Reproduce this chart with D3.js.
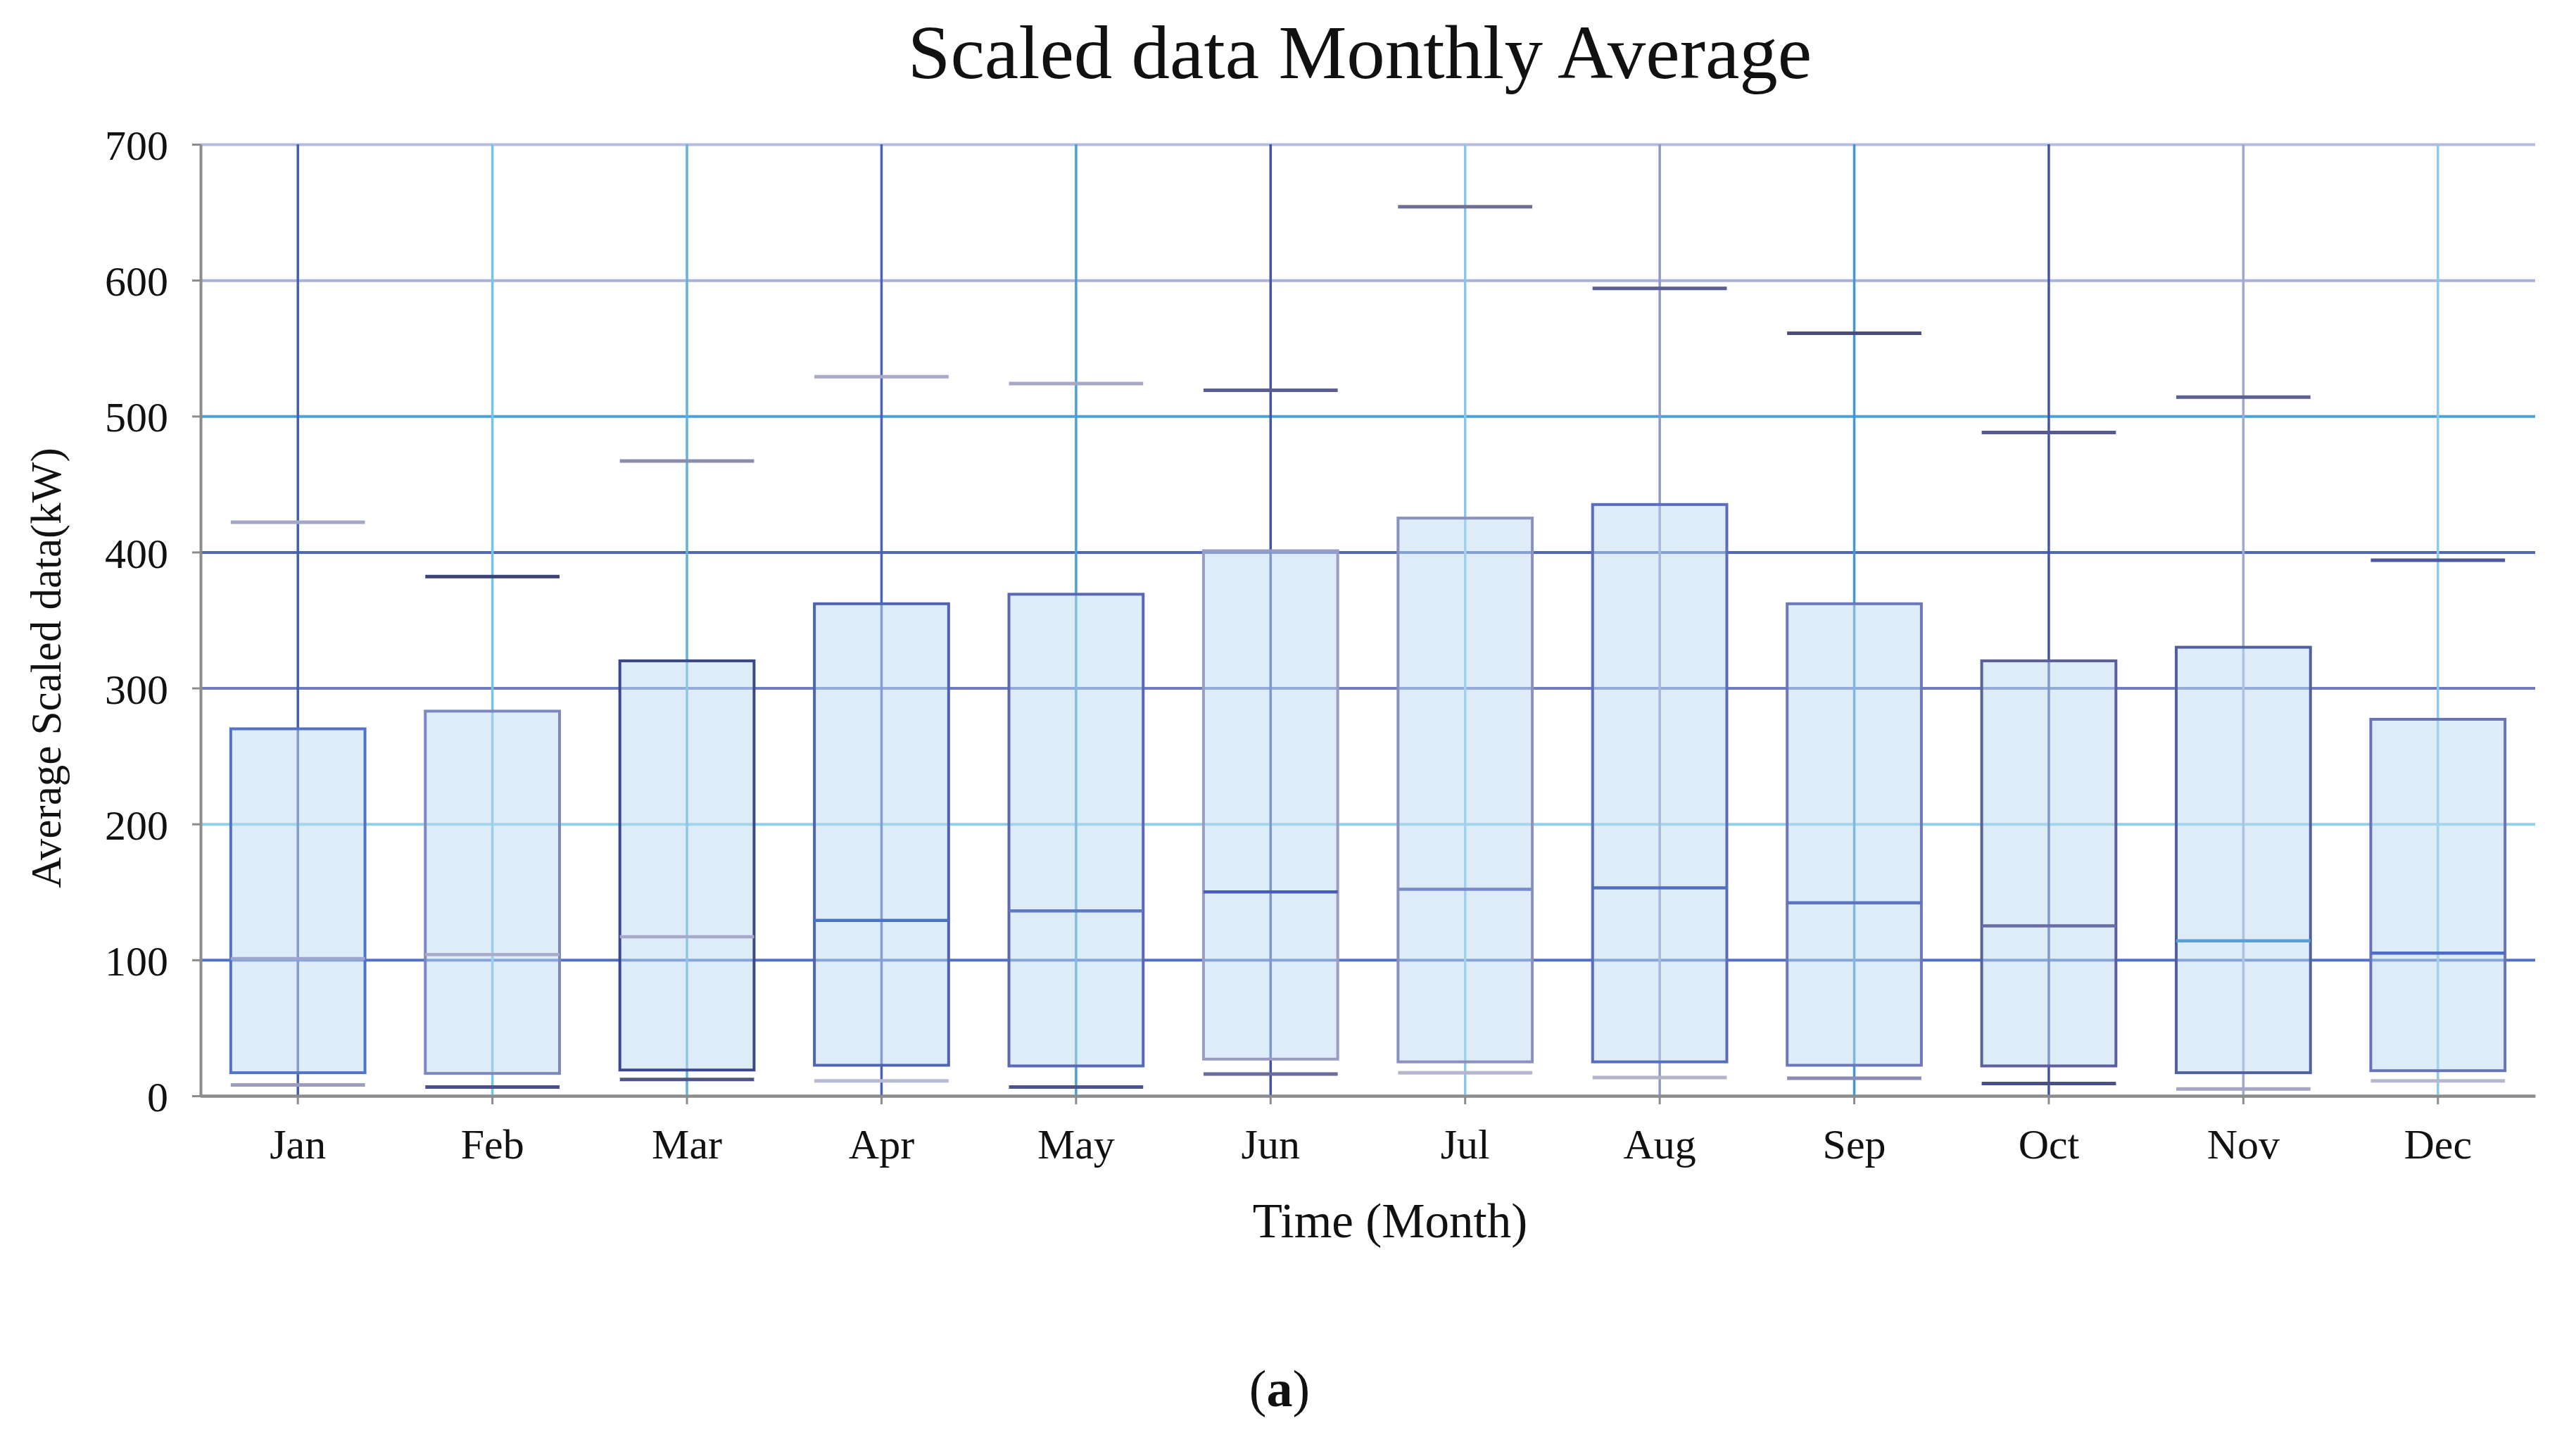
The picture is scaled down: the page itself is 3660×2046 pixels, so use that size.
<!DOCTYPE html>
<html>
<head>
<meta charset="utf-8">
<script src="https://cdn.jsdelivr.net/npm/d3@7"></script>
<style>
  body { margin: 0; background: #fff; }
  text { font-family: "Liberation Serif", "Times New Roman", serif; fill: #111; }
</style>
</head>
<body>
<svg id="chart" width="3660" height="2046"></svg>
<script>
const months = ["Jan", "Feb", "Mar", "Apr", "May", "Jun", "Jul", "Aug", "Sep", "Oct", "Nov", "Dec"];
const upper  = [422, 382, 467, 529, 524, 519, 654, 594, 561, 488, 514, 394];
const q3     = [270, 283, 320, 362, 369, 401, 425, 435, 362, 320, 330, 277];
const median = [101, 104, 117, 129, 136, 150, 152, 153, 142, 125, 114, 105];
const q1     = [17, 16.5, 19, 22.5, 22, 27, 25, 25, 22.5, 22, 17, 18.5];
const lower  = [8, 6.5, 12, 11, 6.5, 16, 17, 13.5, 13, 9, 5, 11];
const yTicks = [0, 100, 200, 300, 400, 500, 600, 700];

// colours of the reference, one per gridline / box
const hGridColors = ["#8a8a8a", "#5470c4", "#8fd0ea", "#6f7cc4", "#5166b8", "#4aa2d6", "#aab2dc", "#b4bce2"];
const vGridColors = ["#4160b4", "#74c4e8", "#62b2de", "#4862b6", "#4a9ed8", "#4254aa", "#86c8ea", "#8e98cc", "#4496d4", "#4156aa", "#9ea8d6", "#8ccbe8"];
const boxColors   = ["#5272c6", "#7e88bc", "#3a468e", "#5064b4", "#5a68b4", "#9a9cc4", "#8c90bc", "#5a6cc0", "#6c78bc", "#5c5f9e", "#50609e", "#6874b8"];
const medColors   = ["#9ea6d0", "#aaaacc", "#a8a8c8", "#4a72c8", "#5d7ac4", "#4a5cb4", "#7a8cc8", "#4f6ec4", "#5d74c0", "#6a6ca8", "#5aa0d4", "#4e6cc4"];
const capHiColors = ["#a4a6c8", "#3c417c", "#8a8cb0", "#a8aac8", "#a6a8c6", "#5c5e92", "#6e7098", "#5c5e92", "#4a4c80", "#555a90", "#5c5f92", "#4c5a9c"];
const capLoColors = ["#9a9cc0", "#4c5088", "#505488", "#b8bad2", "#4e5488", "#6a6c9c", "#b4b6cc", "#b2b4ca", "#8a8cb4", "#4a4e86", "#a4a6c4", "#b6b8d0"];

const svg = d3.select("#chart");
const margin = {top: 205, right: 58, bottom: 489, left: 285};
const W = +svg.attr("width");
const H = +svg.attr("height");
const width = W - margin.left - margin.right;
const height = H - margin.top - margin.bottom;

const x = d3.scaleBand().domain(months).range([0, width]).padding(0);
const y = d3.scaleLinear().domain([0, 700]).range([height, 0]);
const cx = m => x(m) + x.bandwidth() / 2;
const boxW = x.bandwidth() * 0.69;

const g = svg.append("g")
  .attr("transform", "translate(" + margin.left + "," + margin.top + ")");

// horizontal grid
const yGrid = g.append("g")
  .call(d3.axisLeft(y).tickValues(yTicks).tickSize(-width).tickFormat(""));
yGrid.select(".domain").remove();
yGrid.selectAll(".tick line")
  .attr("stroke", (d, i) => hGridColors[i])
  .attr("stroke-width", 4);

// vertical grid through every month
const xGrid = g.append("g")
  .attr("transform", "translate(0," + height + ")")
  .call(d3.axisBottom(x).tickSize(-height).tickFormat(""));
xGrid.select(".domain").remove();
xGrid.selectAll(".tick line")
  .attr("stroke", (d, i) => vGridColors[i])
  .attr("stroke-width", 3.5);

// boxes
const data = months.map((m, i) => ({
  m, i, upper: upper[i], q3: q3[i], median: median[i], q1: q1[i], lower: lower[i]
}));

const box = g.selectAll(".box").data(data).enter().append("g").attr("class", "box");

box.append("rect")
  .attr("x", d => cx(d.m) - boxW / 2)
  .attr("y", d => y(d.q3))
  .attr("width", boxW)
  .attr("height", d => y(d.q1) - y(d.q3))
  .attr("fill", "#bcdaf0")
  .attr("fill-opacity", 0.5)
  .attr("stroke", d => boxColors[d.i])
  .attr("stroke-width", 4);

box.append("line")
  .attr("x1", d => cx(d.m) - boxW / 2)
  .attr("x2", d => cx(d.m) + boxW / 2)
  .attr("y1", d => y(d.median))
  .attr("y2", d => y(d.median))
  .attr("stroke", d => medColors[d.i])
  .attr("stroke-width", 4.5);

box.append("line")
  .attr("x1", d => cx(d.m) - boxW / 2)
  .attr("x2", d => cx(d.m) + boxW / 2)
  .attr("y1", d => y(d.upper))
  .attr("y2", d => y(d.upper))
  .attr("stroke", d => capHiColors[d.i])
  .attr("stroke-width", 5);

box.append("line")
  .attr("x1", d => cx(d.m) - boxW / 2)
  .attr("x2", d => cx(d.m) + boxW / 2)
  .attr("y1", d => y(d.lower))
  .attr("y2", d => y(d.lower))
  .attr("stroke", d => capLoColors[d.i])
  .attr("stroke-width", 5);

// axes
const yAxis = g.append("g")
  .call(d3.axisLeft(y).tickValues(yTicks).tickSize(12).tickSizeOuter(0).tickPadding(34));
yAxis.select(".domain").attr("stroke", "#8c8c8c").attr("stroke-width", 4);
yAxis.selectAll(".tick line").attr("stroke", "#8c8c8c").attr("stroke-width", 3);
yAxis.selectAll(".tick text")
  .style("font-size", "60px")
  .attr("dy", "0.36em")
  .attr("fill", "#111");

const xAxis = g.append("g")
  .attr("transform", "translate(0," + height + ")")
  .call(d3.axisBottom(x).tickSize(12).tickSizeOuter(0).tickPadding(34));
xAxis.select(".domain").attr("stroke", "#8c8c8c").attr("stroke-width", 4);
xAxis.selectAll(".tick line").attr("stroke", "#8c8c8c").attr("stroke-width", 3);
xAxis.selectAll(".tick text")
  .style("font-size", "60px")
  .attr("fill", "#111");

// titles
svg.append("text")
  .attr("x", 1932)
  .attr("y", 111)
  .attr("text-anchor", "middle")
  .style("font-size", "109px")
  .text("Scaled data Monthly Average");

svg.append("text")
  .attr("transform", "translate(86,949) rotate(-90)")
  .attr("text-anchor", "middle")
  .style("font-size", "61px")
  .text("Average Scaled data(kW)");

svg.append("text")
  .attr("x", 1975)
  .attr("y", 1758)
  .attr("text-anchor", "middle")
  .style("font-size", "69px")
  .text("Time (Month)");

svg.append("text")
  .attr("x", 1818)
  .attr("y", 1998)
  .attr("text-anchor", "middle")
  .style("font-size", "74px")
  .text("(")
  .append("tspan").style("font-weight", "bold").text("a")
  .append("tspan").style("font-weight", "normal").text(")");
</script>
</body>
</html>
